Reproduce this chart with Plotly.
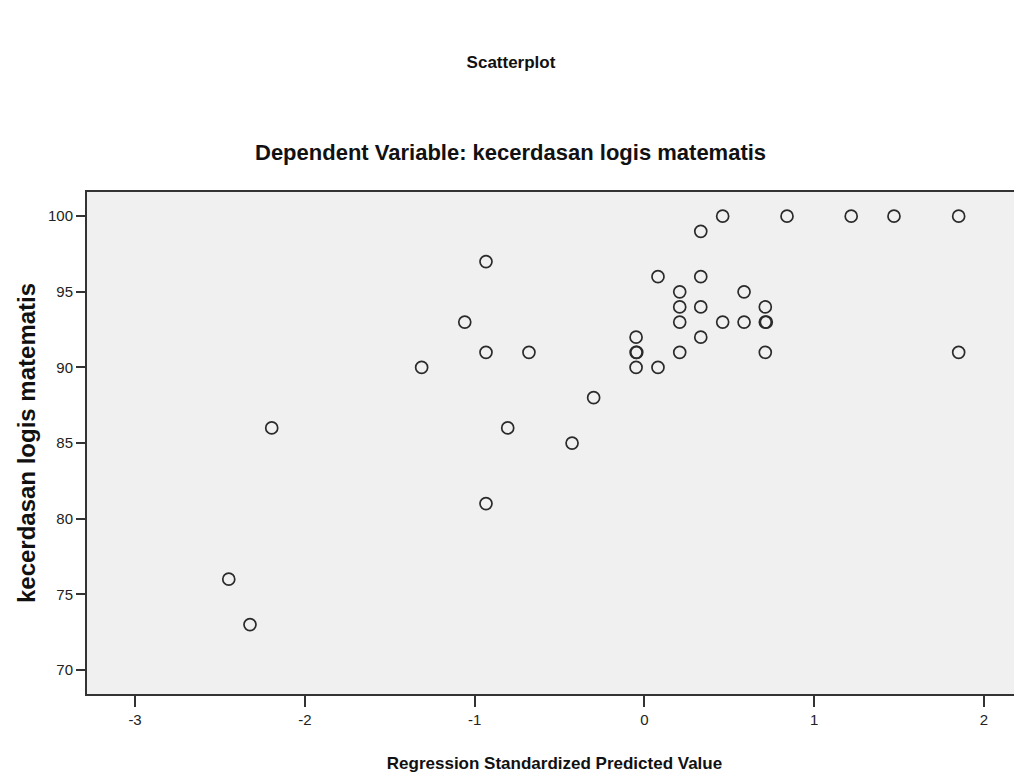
import plotly.graph_objects as go

# Regression standardized predicted values (x) and observed values (y)
pred_values = [0.461, 0.840, 1.218, 1.470, 1.851,
               0.332,
               -0.933,
               0.080, 0.332,
               0.208, 0.587,
               0.208, 0.332, 0.712,
               -1.058, 0.208, 0.461, 0.587, 0.712, 0.718,
               -0.049, 0.332,
               -0.933, -0.680, -0.049, -0.045, 0.208, 0.712, 1.851,
               -1.312, -0.049, 0.080,
               -0.299,
               -2.195, -0.805,
               -0.426,
               -0.933,
               -2.448,
               -2.323]
kecerdasan = [100, 100, 100, 100, 100,
              99,
              97,
              96, 96,
              95, 95,
              94, 94, 94,
              93, 93, 93, 93, 93, 93,
              92, 92,
              91, 91, 91, 91, 91, 91, 91,
              90, 90, 90,
              88,
              86, 86,
              85,
              81,
              76,
              73]

x_ticks = [-3, -2, -1, 0, 1, 2]
x_tick_labels = ["-3", "-2", "-1", "0", "1", "2"]
y_ticks = [70, 75, 80, 85, 90, 95, 100]

FONT = "Liberation Sans, Arial, sans-serif"

W, H = 1014, 765  # page adds an 8px body margin

fig = go.Figure()
fig.add_trace(go.Scatter(
    x=pred_values, y=kecerdasan, mode="markers",
    marker=dict(symbol="circle-open", size=12, color="#2a2a2a",
                line=dict(width=1.7, color="#2a2a2a")),
    showlegend=False, hoverinfo="x+y"))

fig.update_layout(
    width=W, height=H,
    margin=dict(l=79, r=0, t=184, b=79),
    paper_bgcolor="white", plot_bgcolor="#f0f0f0",
    font=dict(family=FONT, color="#222222"),
    title=dict(text="<b>Scatterplot</b>", x=(511 - 8) / W, xanchor="center",
               y=1 - 54 / H, yanchor="middle",
               font=dict(size=17, family=FONT, color="#111111")),
    annotations=[dict(text="<b>Dependent Variable: kecerdasan logis matematis</b>",
                      xref="paper", yref="paper", x=(510 - 87) / 935, y=1,
                      yshift=40, xanchor="center", yanchor="middle",
                      showarrow=False,
                      font=dict(size=22, family=FONT, color="#111111"))],
    xaxis=dict(range=[-3.283, 2.224], tickvals=x_ticks, ticktext=x_tick_labels,
               ticks="outside", ticklen=11, tickwidth=2, tickcolor="#333333",
               showline=True, linecolor="#333333", linewidth=2, mirror=True,
               showgrid=False, zeroline=False,
               tickfont=dict(size=15, color="#222222"),
               title=dict(text="<b>Regression Standardized Predicted Value</b>",
                          font=dict(size=17, color="#111111"), standoff=30)),
    yaxis=dict(range=[68.41, 101.6], tickvals=y_ticks,
               ticks="outside", ticklen=9, tickwidth=1.5, tickcolor="#333333",
               showline=True, linecolor="#333333", linewidth=2, mirror=False,
               showgrid=False, zeroline=False,
               tickfont=dict(size=15, color="#222222"),
               title=dict(text="<b>kecerdasan logis matematis</b>",
                          font=dict(size=24, color="#111111"), standoff=6)),
)

fig.write_html("out.html")
